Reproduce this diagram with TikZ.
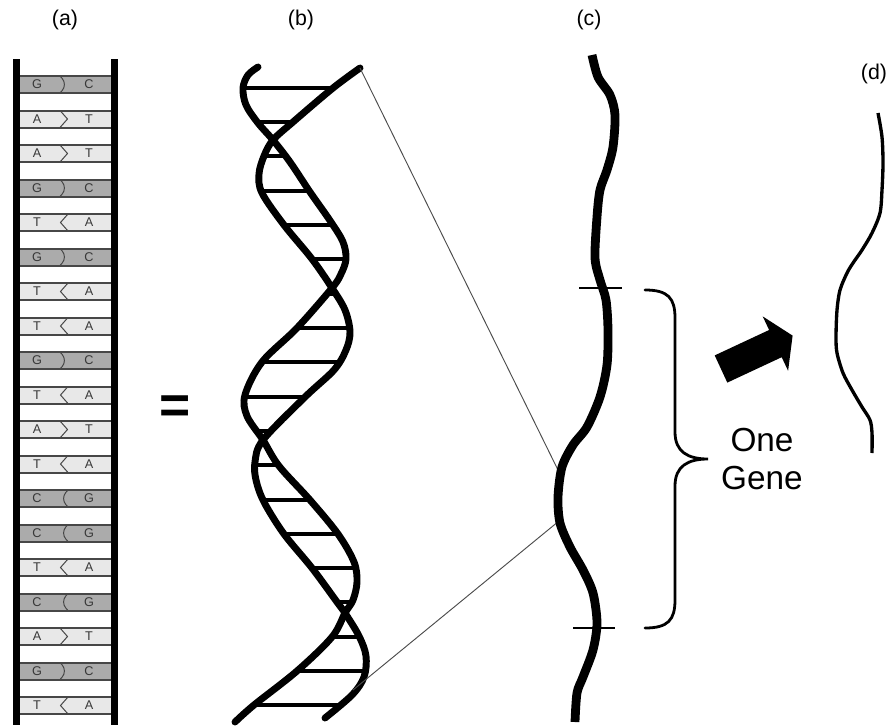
\documentclass[tikz,border=0pt]{standalone}
\usepackage{fontspec}
\setmainfont{Liberation Sans}
\definecolor{darkband}{HTML}{ABABAB}
\definecolor{lightband}{HTML}{E8E8E8}
\definecolor{edgegray}{HTML}{474747}
\definecolor{lettergray}{HTML}{383838}

\begin{document}
\begin{tikzpicture}[x=0.75pt,y=-0.75pt,
  rail/.style={line width=5.25pt},
  bandedge/.style={edgegray,line width=1.5pt},
  bondline/.style={edgegray,line width=0.75pt},
  basechar/.style={inner sep=0pt,lettergray,font=\fontsize{9.5}{9.5}\selectfont},
  band GC/.style={fill=darkband}, band CG/.style={fill=darkband},
  band AT/.style={fill=lightband}, band TA/.style={fill=lightband},
  mirror/.style={xshift=96pt,xscale=-1},
  bond GC/.style={rounded corners=6pt}, bond CG/.style={rounded corners=6pt,mirror},
  bond AT/.style={sharp corners}, bond TA/.style={sharp corners,mirror},
  panel/.style={inner sep=0pt,font=\fontsize{16}{16}\selectfont},
  strand/.style={line width=5.2pt,line cap=round,line join=round},
  rung/.style={line width=2.4pt},
  zoomline/.style={draw=black!70,line width=0.7pt},
  chain/.style={line width=6.6pt,line join=round},
  tick/.style={line width=2.2pt},
  brace/.style={line width=2.1pt,line cap=round},
  gene/.style={line width=2.5pt,line join=round}]

\path[use as bounding box,fill=white] (0,0) rectangle (892,725);

% (a) ladder of base pairs
\foreach \l/\r [count=\i from 0] in {G/C,A/T,A/T,G/C,T/A,G/C,T/A,T/A,G/C,T/A,A/T,T/A,C/G,C/G,T/A,C/G,A/T,G/C,T/A}{
  \begin{scope}[shift={(0,{84.5+34.5*\i})}]
    \path[band \l\r] (20,-8.5) rectangle (111,8.5);
    \draw[bandedge] (20,-8.5) -- (111,-8.5) (20,8.5) -- (111,8.5);
    \node[basechar] (L\i) at (37,0) {\l};
    \node[basechar] (R\i) at (89,0) {\r};
    \draw[bondline,bond \l\r] (60,-8.5) -- (67.5,0) -- (60,8.5);
  \end{scope}
}
\draw[rail] (16.5,59) -- (16.5,725);
\draw[rail] (114.5,59) -- (114.5,725);

\node[panel] (lbla) at (65,20) {(a)};
\node[panel] (lblb) at (301,20) {(b)};
\node[panel] (lblc) at (589,20) {(c)};
\node[panel] (lbld) at (874,74) {(d)};

\node[inner sep=0pt,font=\fontsize{40}{40}\selectfont\bfseries] (equals) at (175,410) {=};

% (b) double helix
\foreach \y/\xa/\xb in {88/243/333,122/258/293,156/264/285,191/261/308,225/284/333,
  259/312/345,294/328/336,328/297/349,362/262/341,397/245/305,431/256/272,465/254/278,
  500/262/310,534/284/338,568/312/356,602/337/350,637/332/360,671/297/366,705/254/340}
  \draw[rung] (\xa,\y) -- (\xb,\y);

\draw[strand] plot[smooth,tension=0.55] coordinates {(258,67) (248,75) (243,88) (246,105)
  (258,123) (273,140) (290,162) (310,192) (331,222) (343,242) (346,259) (341,274) (332,288)
  (297,328) (262,362) (245,395) (247,416) (263,440) (279,466) (310,500) (338,534) (354,562)
  (357,582) (353,600) (345,613) (332,637) (297,671) (254,705) (235,722)};
\draw[strand] plot[smooth,tension=0.55] coordinates {(360,68) (333,88) (293,122) (273,140)
  (264,156) (259,174) (262,193) (284,225) (312,259) (332,288) (345,310) (350,332) (346,350)
  (334,370) (305,397) (263,440) (255,462) (256,480) (264,502) (284,534) (312,568) (337,602)
  (345,613) (359,636) (366,656) (364,677) (352,695) (325,718)};

\coordinate (helixtop) at (360,68);
\coordinate (helixlow) at (353,690);
\coordinate (genetop) at (558,470);
\coordinate (genelow) at (559,521);
\draw[zoomline] (helixtop) -- (genetop);
\draw[zoomline] (helixlow) -- (genelow);

% (c) chromosome strand with the gene marked
\draw[chain] plot[smooth,tension=0.5] coordinates {(592,55) (598,77) (610,95) (615,115)
  (613,147) (607,170) (600,190) (597,217) (595,258) (600,280) (606,300) (608,330) (607,365)
  (600,397) (587,427) (573,445) (562,467) (558,497) (560,523) (570,547) (583,570) (593,593)
  (597,623) (593,650) (583,677) (577,693) (575,722)};
\draw[tick] (579,288) -- (622,288);
\draw[tick] (573,628) -- (615,628);

\draw[brace] (645,290) .. controls (668,290) and (675,298) .. (675,318) -- (675,432)
  .. controls (675,452) and (688,459) .. (708,459)
  .. controls (688,459) and (675,466) .. (675,486) -- (675,600)
  .. controls (675,620) and (668,628) .. (645,628);
\node[align=center,inner sep=0pt,font=\fontsize{25}{28}\selectfont] (onegene) at (762,459) {One\\Gene};

\fill (714.7,355.4) -- (769.1,330) -- (762.7,316.4) -- (792.6,335.6) -- (788.1,370.8)
  -- (781.7,357.2) -- (727.3,382.6) -- cycle;

% (d) the gene on its own
\draw[gene] plot[smooth,tension=0.5] coordinates {(878,113) (882,137) (883,163) (882,190)
  (880,213) (872,233) (862,250) (853,263) (847,273) (840,290) (837,310) (836,337) (837,353)
  (843,373) (852,390) (862,407) (870,420) (872,433) (872,453)};
\end{tikzpicture}
\end{document}
